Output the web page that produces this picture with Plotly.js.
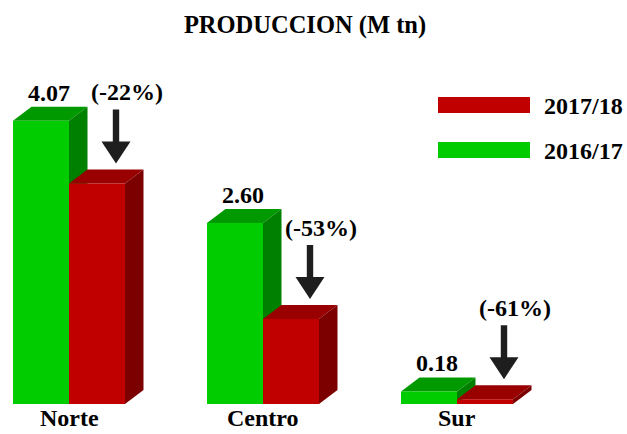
<!DOCTYPE html>
<html>
<head>
<meta charset="utf-8">
<script src="https://cdn.plot.ly/plotly-3.0.1.min.js"></script>
<style>html,body{margin:0;padding:0;background:#fff;}#chart{width:627px;height:434px;}</style>
</head>
<body>
<div id="chart"></div>
<script>
// ---- data ----
const categories = ['Norte', 'Centro', 'Sur'];
const seriesNames = ['2016/17', '2017/18'];
const values2016 = [4.07, 2.60, 0.18];
const values2017 = [3.17, 1.22, 0.07];
const valueLabels = ['4.07', '2.60', '0.18'];
const changeLabels = ['(-22%)', '(-53%)', '(-61%)'];
const chartTitle = 'PRODUCCION (M tn)';

// ---- styles ----
const W = 627, H = 434;
const xr = [-0.3557, 2.8763], yr = [-0.431, 5.805];
const pxX = W / (xr[1] - xr[0]);
const pxY = H / (yr[1] - yr[0]);
const dxp = p => p / pxX, dyp = p => p / pxY;
const bw = dxp(56), ddx = dxp(18.5), ddy = dyp(14);
const FONT = {family: 'Liberation Serif, Times New Roman, serif', size: 24, color: '#000'};
const TITLE_FONT = {family: 'Liberation Serif, Times New Roman, serif', size: 24.5, color: '#000'};
const C = {
  gFront: '#00CC00', gTop: '#009900', gSide: '#008000',
  rFront: '#C00000', rTop: '#990000', rSide: '#7C0000',
  arrow: '#1E1E1E'
};

const xs = categories.map((c, i) => i);

const traces = [
  {type: 'bar', x: xs, y: values2016, width: bw, offset: -bw, name: seriesNames[0],
   marker: {color: C.gFront, line: {width: 0}}, hoverinfo: 'skip', showlegend: false},
  {type: 'bar', x: xs, y: values2017, width: bw, offset: 0, name: seriesNames[1],
   marker: {color: C.rFront, line: {width: 0}}, hoverinfo: 'skip', showlegend: false}
];

function poly(pts) {
  return 'M' + pts.map(p => p[0] + ',' + p[1]).join(' L') + ' Z';
}
function faces(x0, x1, h, top, side) {
  return [
    {type: 'path', xref: 'x', yref: 'y', layer: 'below', fillcolor: top, line: {width: 0},
     path: poly([[x0, h], [x0 + ddx, h + ddy], [x1 + ddx, h + ddy], [x1, h]])},
    {type: 'path', xref: 'x', yref: 'y', layer: 'below', fillcolor: side, line: {width: 0},
     path: poly([[x1, 0], [x1 + ddx, ddy], [x1 + ddx, h + ddy], [x1, h]])}
  ];
}

const shapes = [];
const annotations = [];
xs.forEach((i, k) => {
  const g = values2016[k], r = values2017[k];
  shapes.push(...faces(i - bw, i, g, C.gTop, C.gSide));
  shapes.push(...faces(i, i + bw, r, C.rTop, C.rSide));
  // arrow
  const ax = i + bw / 2 + dxp(19);
  const tipY = r + ddy + dyp(6);
  const headY = tipY + dyp(22);
  const tailY = tipY + dyp(54);
  const hs = dxp(3.2), hh = dxp(14.5);
  shapes.push({type: 'path', xref: 'x', yref: 'y', layer: 'above', fillcolor: C.arrow, line: {width: 0},
    path: poly([[ax - hs, tailY], [ax + hs, tailY], [ax + hs, headY], [ax + hh, headY],
                [ax, tipY], [ax - hh, headY], [ax - hs, headY]])});
  annotations.push({x: i + bw / 2 + dxp(30), y: tailY, yshift: 17, xref: 'x', yref: 'y',
    text: '<b>' + changeLabels[k] + '</b>', showarrow: false, xanchor: 'center', yanchor: 'middle', font: FONT});
  annotations.push({x: i - bw / 2 + dxp(8), y: g + ddy, yshift: -1, xref: 'x', yref: 'y',
    text: '<b>' + valueLabels[k] + '</b>', showarrow: false, xanchor: 'center', yanchor: 'bottom', font: FONT});
  annotations.push({x: i, y: 0, yshift: -29, xref: 'x', yref: 'y',
    text: '<b>' + categories[k] + '</b>', showarrow: false, xanchor: 'center', yanchor: 'bottom', font: FONT});
});

// custom legend (2017/18 first)
const legendItems = [
  {name: seriesNames[1], color: C.rFront, top: 97},
  {name: seriesNames[0], color: C.gFront, top: 142}
];
legendItems.forEach(it => {
  shapes.push({type: 'rect', xref: 'paper', yref: 'paper', fillcolor: it.color, line: {width: 0},
    x0: 438 / W, x1: 530 / W, y0: 1 - (it.top + 16) / H, y1: 1 - it.top / H});
  annotations.push({xref: 'paper', yref: 'paper', x: 542 / W, y: 1 - (it.top + 8) / H, yshift: -1,
    text: '<b>' + it.name + '</b>', showarrow: false, xanchor: 'left', yanchor: 'middle', font: FONT});
});

const layout = {
  width: W, height: H,
  margin: {l: 0, r: 0, t: 0, b: 0, pad: 0},
  paper_bgcolor: '#fff', plot_bgcolor: '#fff',
  title: {text: '<b>' + chartTitle + '</b>', x: 305 / W, xanchor: 'center', y: 1 - 24 / H, yanchor: 'middle',
          xref: 'paper', yref: 'paper', font: TITLE_FONT},
  barmode: 'overlay',
  showlegend: false,
  hovermode: false,
  xaxis: {range: xr, visible: false, fixedrange: true},
  yaxis: {range: yr, visible: false, fixedrange: true},
  shapes: shapes,
  annotations: annotations
};

Plotly.newPlot('chart', traces, layout, {staticPlot: true, displayModeBar: false});
</script>
</body>
</html>
